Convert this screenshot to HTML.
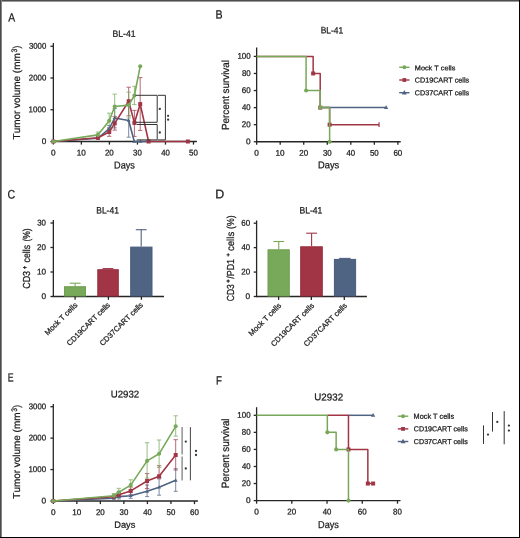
<!DOCTYPE html>
<html><head><meta charset="utf-8"><title>Figure</title>
<style>
html,body{margin:0;padding:0;background:#fff;}
body{width:520px;height:538px;overflow:hidden;}
svg{display:block;font-family:"Liberation Sans", sans-serif;font-kerning:none;}
#g{filter:blur(0.3px);}
text{stroke:#1a1a1a;stroke-width:0.25px;}
text.sup{stroke-width:0.4px;}
</style></head><body>
<svg width="520" height="538" viewBox="0 0 520 538">
<rect width="520" height="538" fill="#fff"/>
<g id="g">
<text transform="matrix(1,0.000873,0,1,0,-0.00716)" x="8.20" y="21.43" font-size="11.93" textLength="6.90" lengthAdjust="spacingAndGlyphs" fill="#1a1a1a">A</text>
<text transform="matrix(1,0.000873,0,1,0,-0.18809)" x="215.45" y="18.58" font-size="12.01" textLength="7.09" lengthAdjust="spacingAndGlyphs" fill="#1a1a1a">B</text>
<text transform="matrix(1,0.000873,0,1,0,-0.00653)" x="7.48" y="198.46" font-size="12.37" textLength="7.71" lengthAdjust="spacingAndGlyphs" fill="#1a1a1a">C</text>
<text transform="matrix(1,0.000873,0,1,0,-0.18796)" x="215.30" y="198.28" font-size="12.44" textLength="8.97" lengthAdjust="spacingAndGlyphs" fill="#1a1a1a">D</text>
<text transform="matrix(1,0.000873,0,1,0,-0.00681)" x="7.80" y="381.58" font-size="11.72" textLength="5.86" lengthAdjust="spacingAndGlyphs" fill="#1a1a1a">E</text>
<text transform="matrix(1,0.000873,0,1,0,-0.18850)" x="215.92" y="384.48" font-size="11.86" textLength="5.95" lengthAdjust="spacingAndGlyphs" fill="#1a1a1a">F</text>
<text transform="matrix(1,0.000873,0,1,0,-0.09822)" x="112.51" y="36.78" font-size="9.10" textLength="23.09" lengthAdjust="spacingAndGlyphs" fill="#1a1a1a">BL-41</text>
<text transform="matrix(1,0.000873,0,1,0,-0.09958)" x="114.07" y="168.50" font-size="10.01" textLength="20.84" lengthAdjust="spacingAndGlyphs" fill="#1a1a1a">Days</text>
<line x1="53.35" y1="43.00" x2="53.35" y2="142.10" stroke="#262626" stroke-width="1.3" />
<line x1="50.45" y1="141.50" x2="53.35" y2="141.50" stroke="#262626" stroke-width="1.3" />
<text transform="matrix(1,0.000873,0,1,0,-0.03640)" x="41.70" y="143.96" font-size="8.30" textLength="4.61" lengthAdjust="spacingAndGlyphs" fill="#1a1a1a">0</text>
<line x1="50.45" y1="109.75" x2="53.35" y2="109.75" stroke="#262626" stroke-width="1.3" />
<text transform="matrix(1,0.000873,0,1,0,-0.02498)" x="28.61" y="112.21" font-size="8.30" textLength="17.68" lengthAdjust="spacingAndGlyphs" fill="#1a1a1a">1000</text>
<line x1="50.45" y1="78.00" x2="53.35" y2="78.00" stroke="#262626" stroke-width="1.3" />
<text transform="matrix(1,0.000873,0,1,0,-0.02516)" x="28.83" y="80.46" font-size="8.30" textLength="17.46" lengthAdjust="spacingAndGlyphs" fill="#1a1a1a">2000</text>
<line x1="50.45" y1="46.25" x2="53.35" y2="46.25" stroke="#262626" stroke-width="1.3" />
<text transform="matrix(1,0.000873,0,1,0,-0.02525)" x="28.92" y="48.71" font-size="8.30" textLength="17.36" lengthAdjust="spacingAndGlyphs" fill="#1a1a1a">3000</text>
<line x1="52.75" y1="141.50" x2="196.90" y2="141.50" stroke="#262626" stroke-width="1.3" />
<line x1="53.35" y1="141.50" x2="53.35" y2="144.60" stroke="#262626" stroke-width="1.3" />
<text transform="matrix(1,0.000873,0,1,0,-0.04456)" x="51.05" y="155.61" font-size="8.30" textLength="4.61" lengthAdjust="spacingAndGlyphs" fill="#1a1a1a">0</text>
<line x1="81.38" y1="141.50" x2="81.38" y2="144.60" stroke="#262626" stroke-width="1.3" />
<text transform="matrix(1,0.000873,0,1,0,-0.06694)" x="76.68" y="155.61" font-size="8.30" textLength="9.10" lengthAdjust="spacingAndGlyphs" fill="#1a1a1a">10</text>
<line x1="109.41" y1="141.50" x2="109.41" y2="144.60" stroke="#262626" stroke-width="1.3" />
<text transform="matrix(1,0.000873,0,1,0,-0.09160)" x="104.93" y="155.61" font-size="8.30" textLength="8.87" lengthAdjust="spacingAndGlyphs" fill="#1a1a1a">20</text>
<line x1="137.44" y1="141.50" x2="137.44" y2="144.60" stroke="#262626" stroke-width="1.3" />
<text transform="matrix(1,0.000873,0,1,0,-0.11616)" x="133.06" y="155.61" font-size="8.30" textLength="8.77" lengthAdjust="spacingAndGlyphs" fill="#1a1a1a">30</text>
<line x1="165.47" y1="141.50" x2="165.47" y2="144.60" stroke="#262626" stroke-width="1.3" />
<text transform="matrix(1,0.000873,0,1,0,-0.14074)" x="161.21" y="155.61" font-size="8.30" textLength="8.64" lengthAdjust="spacingAndGlyphs" fill="#1a1a1a">40</text>
<line x1="193.50" y1="141.50" x2="193.50" y2="144.60" stroke="#262626" stroke-width="1.3" />
<text transform="matrix(1,0.000873,0,1,0,-0.16509)" x="189.10" y="155.61" font-size="8.30" textLength="8.78" lengthAdjust="spacingAndGlyphs" fill="#1a1a1a">50</text>
<g transform="matrix(1,0.000873,0,1,0,-0.01729)"><text transform="rotate(-90)" x="-139.40" y="19.80" font-size="10.00" textLength="86.14" lengthAdjust="spacingAndGlyphs" fill="#1a1a1a">Tumor volume (mm</text></g>
<g transform="matrix(1,0.000873,0,1,0,-0.01476)"><text transform="rotate(-90)" x="-52.53" y="16.90" font-size="7.99" textLength="3.71" lengthAdjust="spacingAndGlyphs" fill="#1a1a1a">3</text></g>
<g transform="matrix(1,0.000873,0,1,0,-0.01729)"><text transform="rotate(-90)" x="-48.43" y="19.80" font-size="10.00" textLength="2.71" lengthAdjust="spacingAndGlyphs" fill="#1a1a1a">)</text></g>
<g stroke="#4f6382" stroke-width="1.0" opacity="0.75"><line x1="109.20" y1="125.50" x2="109.20" y2="132.00"/><line x1="107.20" y1="125.50" x2="111.20" y2="125.50"/><line x1="107.20" y1="132.00" x2="111.20" y2="132.00"/></g>
<g stroke="#4f6382" stroke-width="1.0" opacity="0.75"><line x1="114.70" y1="108.50" x2="114.70" y2="127.90"/><line x1="112.70" y1="108.50" x2="116.70" y2="108.50"/><line x1="112.70" y1="127.90" x2="116.70" y2="127.90"/></g>
<g stroke="#4f6382" stroke-width="1.0" opacity="0.75"><line x1="128.70" y1="104.00" x2="128.70" y2="137.20"/><line x1="126.70" y1="104.00" x2="130.70" y2="104.00"/><line x1="126.70" y1="137.20" x2="130.70" y2="137.20"/></g>
<g stroke="#a13545" stroke-width="1.0" opacity="0.75"><line x1="109.20" y1="127.90" x2="109.20" y2="136.30"/><line x1="107.00" y1="127.90" x2="111.40" y2="127.90"/><line x1="107.00" y1="136.30" x2="111.40" y2="136.30"/></g>
<g stroke="#a13545" stroke-width="1.0" opacity="0.75"><line x1="114.70" y1="116.40" x2="114.70" y2="130.10"/><line x1="112.50" y1="116.40" x2="116.90" y2="116.40"/><line x1="112.50" y1="130.10" x2="116.90" y2="130.10"/></g>
<g stroke="#a13545" stroke-width="1.0" opacity="0.75"><line x1="128.70" y1="87.20" x2="128.70" y2="115.80"/><line x1="126.50" y1="87.20" x2="130.90" y2="87.20"/><line x1="126.50" y1="115.80" x2="130.90" y2="115.80"/></g>
<g stroke="#a13545" stroke-width="1.0" opacity="0.75"><line x1="134.40" y1="110.40" x2="134.40" y2="136.40"/><line x1="132.20" y1="110.40" x2="136.60" y2="110.40"/><line x1="132.20" y1="136.40" x2="136.60" y2="136.40"/></g>
<g stroke="#a13545" stroke-width="1.0" opacity="0.75"><line x1="140.20" y1="77.60" x2="140.20" y2="130.40"/><line x1="138.00" y1="77.60" x2="142.40" y2="77.60"/><line x1="138.00" y1="130.40" x2="142.40" y2="130.40"/></g>
<g stroke="#78a85a" stroke-width="1.0" opacity="0.75"><line x1="97.90" y1="132.00" x2="97.90" y2="137.80"/><line x1="95.70" y1="132.00" x2="100.10" y2="132.00"/><line x1="95.70" y1="137.80" x2="100.10" y2="137.80"/></g>
<g stroke="#78a85a" stroke-width="1.0" opacity="0.75"><line x1="109.20" y1="113.20" x2="109.20" y2="128.40"/><line x1="107.00" y1="113.20" x2="111.40" y2="113.20"/><line x1="107.00" y1="128.40" x2="111.40" y2="128.40"/></g>
<g stroke="#78a85a" stroke-width="1.0" opacity="0.75"><line x1="114.70" y1="94.10" x2="114.70" y2="118.20"/><line x1="112.50" y1="94.10" x2="116.90" y2="94.10"/><line x1="112.50" y1="118.20" x2="116.90" y2="118.20"/></g>
<g stroke="#78a85a" stroke-width="1.0" opacity="0.75"><line x1="128.70" y1="92.20" x2="128.70" y2="118.00"/><line x1="126.50" y1="92.20" x2="130.90" y2="92.20"/><line x1="126.50" y1="118.00" x2="130.90" y2="118.00"/></g>
<g stroke="#78a85a" stroke-width="1.0" opacity="0.75"><line x1="134.40" y1="86.30" x2="134.40" y2="104.60"/><line x1="132.20" y1="86.30" x2="136.60" y2="86.30"/><line x1="132.20" y1="104.60" x2="136.60" y2="104.60"/></g>
<polyline points="53.35,141.50 97.90,138.30 109.20,128.70 114.70,118.00 128.70,120.50 134.30,141.50 140.40,141.50 148.60,141.50" fill="none" stroke="#4f6382" stroke-width="1.6" stroke-linejoin="round" />
<polygon points="53.35,139.45 51.45,142.87 55.25,142.87" fill="#4f6382"/>
<polygon points="97.90,136.25 96.00,139.67 99.80,139.67" fill="#4f6382"/>
<polygon points="109.20,126.65 107.30,130.07 111.10,130.07" fill="#4f6382"/>
<polygon points="114.70,115.95 112.80,119.37 116.60,119.37" fill="#4f6382"/>
<polygon points="128.70,118.45 126.80,121.87 130.60,121.87" fill="#4f6382"/>
<polygon points="134.30,139.45 132.40,142.87 136.20,142.87" fill="#4f6382"/>
<polygon points="140.40,139.45 138.50,142.87 142.30,142.87" fill="#4f6382"/>
<polygon points="148.60,139.45 146.70,142.87 150.50,142.87" fill="#4f6382"/>
<polyline points="53.35,141.50 97.90,137.80 109.20,132.00 114.70,123.40 128.70,101.25 134.40,122.90 140.20,104.10 148.60,141.50 187.90,141.50" fill="none" stroke="#a13545" stroke-width="1.6" stroke-linejoin="round" />
<rect x="51.35" y="139.50" width="4.0" height="4.0" fill="#a13545"/>
<rect x="95.90" y="135.80" width="4.0" height="4.0" fill="#a13545"/>
<rect x="107.20" y="130.00" width="4.0" height="4.0" fill="#a13545"/>
<rect x="112.70" y="121.40" width="4.0" height="4.0" fill="#a13545"/>
<rect x="126.70" y="99.25" width="4.0" height="4.0" fill="#a13545"/>
<rect x="132.40" y="120.90" width="4.0" height="4.0" fill="#a13545"/>
<rect x="138.20" y="102.10" width="4.0" height="4.0" fill="#a13545"/>
<rect x="146.60" y="139.50" width="4.0" height="4.0" fill="#a13545"/>
<rect x="185.90" y="139.50" width="4.0" height="4.0" fill="#a13545"/>
<polyline points="53.35,141.50 97.90,134.90 109.20,120.80 114.70,106.50 128.70,105.10 134.40,95.50 140.20,66.30" fill="none" stroke="#78a85a" stroke-width="1.6" stroke-linejoin="round" />
<circle cx="53.35" cy="141.50" r="2.05" fill="#78a85a"/>
<circle cx="97.90" cy="134.90" r="2.05" fill="#78a85a"/>
<circle cx="109.20" cy="120.80" r="2.05" fill="#78a85a"/>
<circle cx="114.70" cy="106.50" r="2.05" fill="#78a85a"/>
<circle cx="128.70" cy="105.10" r="2.05" fill="#78a85a"/>
<circle cx="134.40" cy="95.50" r="2.05" fill="#78a85a"/>
<circle cx="140.20" cy="66.30" r="2.05" fill="#78a85a"/>
<polyline points="135.6,95.3 157.2,95.3 157.2,122.3 135.6,122.3" fill="none" stroke="#333" stroke-width="1"/>
<polyline points="136.7,124.5 157.2,124.5 157.2,139.9 136.7,139.9" fill="none" stroke="#333" stroke-width="1"/>
<polyline points="158.0,95.3 165.4,95.3 165.4,139.9 158.0,139.9" fill="none" stroke="#333" stroke-width="1"/>
<circle cx="159.80" cy="108.90" r="1.15" fill="#383838"/>
<circle cx="159.80" cy="132.50" r="1.15" fill="#383838"/>
<circle cx="168.10" cy="115.80" r="1.15" fill="#383838"/>
<circle cx="168.10" cy="119.70" r="1.15" fill="#383838"/>
<text transform="matrix(1,0.000873,0,1,0,-0.27991)" x="320.63" y="33.38" font-size="9.24" textLength="22.46" lengthAdjust="spacingAndGlyphs" fill="#1a1a1a">BL-41</text>
<text transform="matrix(1,0.000873,0,1,0,-0.27766)" x="318.06" y="168.35" font-size="9.78" textLength="21.16" lengthAdjust="spacingAndGlyphs" fill="#1a1a1a">Days</text>
<line x1="256.65" y1="47.40" x2="256.65" y2="142.35" stroke="#262626" stroke-width="1.3" />
<line x1="253.75" y1="141.75" x2="256.65" y2="141.75" stroke="#262626" stroke-width="1.3" />
<text transform="matrix(1,0.000873,0,1,0,-0.21484)" x="246.10" y="144.21" font-size="8.30" textLength="4.61" lengthAdjust="spacingAndGlyphs" fill="#1a1a1a">0</text>
<line x1="253.75" y1="124.68" x2="256.65" y2="124.68" stroke="#262626" stroke-width="1.3" />
<text transform="matrix(1,0.000873,0,1,0,-0.21111)" x="241.82" y="127.14" font-size="8.30" textLength="8.87" lengthAdjust="spacingAndGlyphs" fill="#1a1a1a">20</text>
<line x1="253.75" y1="107.61" x2="256.65" y2="107.61" stroke="#262626" stroke-width="1.3" />
<text transform="matrix(1,0.000873,0,1,0,-0.21130)" x="242.04" y="110.07" font-size="8.30" textLength="8.64" lengthAdjust="spacingAndGlyphs" fill="#1a1a1a">40</text>
<line x1="253.75" y1="90.54" x2="256.65" y2="90.54" stroke="#262626" stroke-width="1.3" />
<text transform="matrix(1,0.000873,0,1,0,-0.21110)" x="241.81" y="93.00" font-size="8.30" textLength="8.88" lengthAdjust="spacingAndGlyphs" fill="#1a1a1a">60</text>
<line x1="253.75" y1="73.47" x2="256.65" y2="73.47" stroke="#262626" stroke-width="1.3" />
<text transform="matrix(1,0.000873,0,1,0,-0.21116)" x="241.88" y="75.93" font-size="8.30" textLength="8.81" lengthAdjust="spacingAndGlyphs" fill="#1a1a1a">80</text>
<line x1="253.75" y1="56.40" x2="256.65" y2="56.40" stroke="#262626" stroke-width="1.3" />
<text transform="matrix(1,0.000873,0,1,0,-0.20726)" x="237.41" y="58.86" font-size="8.30" textLength="13.28" lengthAdjust="spacingAndGlyphs" fill="#1a1a1a">100</text>
<line x1="256.05" y1="141.75" x2="400.70" y2="141.75" stroke="#262626" stroke-width="1.3" />
<line x1="256.65" y1="141.75" x2="256.65" y2="144.85" stroke="#262626" stroke-width="1.3" />
<text transform="matrix(1,0.000873,0,1,0,-0.22204)" x="254.35" y="155.86" font-size="8.30" textLength="4.61" lengthAdjust="spacingAndGlyphs" fill="#1a1a1a">0</text>
<line x1="280.19" y1="141.75" x2="280.19" y2="144.85" stroke="#262626" stroke-width="1.3" />
<text transform="matrix(1,0.000873,0,1,0,-0.24050)" x="275.49" y="155.86" font-size="8.30" textLength="9.10" lengthAdjust="spacingAndGlyphs" fill="#1a1a1a">10</text>
<line x1="303.73" y1="141.75" x2="303.73" y2="144.85" stroke="#262626" stroke-width="1.3" />
<text transform="matrix(1,0.000873,0,1,0,-0.26124)" x="299.25" y="155.86" font-size="8.30" textLength="8.87" lengthAdjust="spacingAndGlyphs" fill="#1a1a1a">20</text>
<line x1="327.27" y1="141.75" x2="327.27" y2="144.85" stroke="#262626" stroke-width="1.3" />
<text transform="matrix(1,0.000873,0,1,0,-0.28188)" x="322.89" y="155.86" font-size="8.30" textLength="8.77" lengthAdjust="spacingAndGlyphs" fill="#1a1a1a">30</text>
<line x1="350.81" y1="141.75" x2="350.81" y2="144.85" stroke="#262626" stroke-width="1.3" />
<text transform="matrix(1,0.000873,0,1,0,-0.30254)" x="346.55" y="155.86" font-size="8.30" textLength="8.64" lengthAdjust="spacingAndGlyphs" fill="#1a1a1a">40</text>
<line x1="374.35" y1="141.75" x2="374.35" y2="144.85" stroke="#262626" stroke-width="1.3" />
<text transform="matrix(1,0.000873,0,1,0,-0.32297)" x="369.95" y="155.86" font-size="8.30" textLength="8.78" lengthAdjust="spacingAndGlyphs" fill="#1a1a1a">50</text>
<line x1="397.89" y1="141.75" x2="397.89" y2="144.85" stroke="#262626" stroke-width="1.3" />
<text transform="matrix(1,0.000873,0,1,0,-0.34344)" x="393.40" y="155.86" font-size="8.30" textLength="8.88" lengthAdjust="spacingAndGlyphs" fill="#1a1a1a">60</text>
<g transform="matrix(1,0.000873,0,1,0,-0.19999)"><text transform="rotate(-90)" x="-129.99" y="229.08" font-size="10.29" textLength="69.92" lengthAdjust="spacingAndGlyphs" fill="#1a1a1a">Percent survival</text></g>
<polyline points="320.21,107.61 386.12,107.61" fill="none" stroke="#4f6382" stroke-width="1.5" stroke-linejoin="round" />
<polygon points="386.12,105.34 384.02,109.12 388.22,109.12" fill="#4f6382"/>
<polyline points="256.65,56.40 313.15,56.40 313.15,73.47 320.21,73.47 320.21,107.61 329.62,107.61 329.62,124.68 379.06,124.68" fill="none" stroke="#a13545" stroke-width="1.5" stroke-linejoin="round" />
<line x1="379.06" y1="122.28" x2="379.06" y2="127.08" stroke="#a13545" stroke-width="1.2" />
<rect x="311.15" y="71.47" width="4.0" height="4.0" fill="#a13545"/>
<rect x="318.21" y="105.61" width="4.0" height="4.0" fill="#a13545"/>
<rect x="327.62" y="122.68" width="4.0" height="4.0" fill="#a13545"/>
<polyline points="256.65,56.40 306.08,56.40 306.08,90.54 320.21,90.54 320.21,107.61 329.62,107.61 329.62,141.75" fill="none" stroke="#78a85a" stroke-width="1.5" stroke-linejoin="round" />
<circle cx="306.08" cy="90.54" r="2.05" fill="#78a85a"/>
<circle cx="320.21" cy="107.61" r="2.05" fill="#78a85a"/>
<circle cx="329.62" cy="141.75" r="2.05" fill="#78a85a"/>
<line x1="399.20" y1="67.30" x2="409.50" y2="67.30" stroke="#78a85a" stroke-width="1.4" />
<circle cx="404.35" cy="67.30" r="2.0" fill="#78a85a"/>
<line x1="399.20" y1="80.00" x2="409.50" y2="80.00" stroke="#a13545" stroke-width="1.4" />
<rect x="402.45" y="78.10" width="3.8" height="3.8" fill="#a13545"/>
<line x1="399.20" y1="92.70" x2="409.50" y2="92.70" stroke="#4f6382" stroke-width="1.4" />
<polygon points="404.35,90.00 401.85,94.50 406.85,94.50" fill="#4f6382"/>
<text transform="matrix(1,0.000873,0,1,0,-0.36214)" x="414.82" y="70.31" font-size="6.75" textLength="40.52" lengthAdjust="spacingAndGlyphs" fill="#1a1a1a">Mock T cells</text>
<text transform="matrix(1,0.000873,0,1,0,-0.36208)" x="414.75" y="82.51" font-size="7.16" textLength="54.39" lengthAdjust="spacingAndGlyphs" fill="#1a1a1a">CD19CART cells</text>
<text transform="matrix(1,0.000873,0,1,0,-0.36208)" x="414.75" y="95.21" font-size="7.16" textLength="54.39" lengthAdjust="spacingAndGlyphs" fill="#1a1a1a">CD37CART cells</text>
<text transform="matrix(1,0.000873,0,1,0,-0.08400)" x="96.22" y="213.53" font-size="9.32" textLength="22.67" lengthAdjust="spacingAndGlyphs" fill="#1a1a1a">BL-41</text>
<line x1="53.35" y1="219.90" x2="53.35" y2="297.10" stroke="#262626" stroke-width="1.3" />
<line x1="50.45" y1="296.50" x2="53.35" y2="296.50" stroke="#262626" stroke-width="1.3" />
<text transform="matrix(1,0.000873,0,1,0,-0.03614)" x="41.40" y="298.96" font-size="8.30" textLength="4.61" lengthAdjust="spacingAndGlyphs" fill="#1a1a1a">0</text>
<line x1="50.45" y1="272.00" x2="53.35" y2="272.00" stroke="#262626" stroke-width="1.3" />
<text transform="matrix(1,0.000873,0,1,0,-0.03221)" x="36.90" y="274.46" font-size="8.30" textLength="9.10" lengthAdjust="spacingAndGlyphs" fill="#1a1a1a">10</text>
<line x1="50.45" y1="247.50" x2="53.35" y2="247.50" stroke="#262626" stroke-width="1.3" />
<text transform="matrix(1,0.000873,0,1,0,-0.03240)" x="37.12" y="249.96" font-size="8.30" textLength="8.87" lengthAdjust="spacingAndGlyphs" fill="#1a1a1a">20</text>
<line x1="50.45" y1="223.00" x2="53.35" y2="223.00" stroke="#262626" stroke-width="1.3" />
<text transform="matrix(1,0.000873,0,1,0,-0.03249)" x="37.22" y="225.46" font-size="8.30" textLength="8.77" lengthAdjust="spacingAndGlyphs" fill="#1a1a1a">30</text>
<line x1="52.70" y1="296.50" x2="164.00" y2="296.50" stroke="#262626" stroke-width="1.3" />
<g transform="matrix(1,0.000873,0,1,0,-0.02654)"><text transform="rotate(-90)" x="-288.83" y="30.40" font-size="10.20" textLength="17.91" lengthAdjust="spacingAndGlyphs" fill="#1a1a1a">CD3</text></g>
<g transform="matrix(1,0.000873,0,1,0,-0.02319)"><text class="sup" transform="rotate(-90)" x="-268.94" y="26.57" font-size="6.66" textLength="3.08" lengthAdjust="spacingAndGlyphs" fill="#1a1a1a">+</text></g>
<g transform="matrix(1,0.000873,0,1,0,-0.02654)"><text transform="rotate(-90)" x="-262.45" y="30.40" font-size="10.20" textLength="17.55" lengthAdjust="spacingAndGlyphs" fill="#1a1a1a">cells</text></g>
<g transform="matrix(1,0.000873,0,1,0,-0.02654)"><text transform="rotate(-90)" x="-241.50" y="30.40" font-size="10.20" textLength="13.11" lengthAdjust="spacingAndGlyphs" fill="#1a1a1a">(%)</text></g>
<rect x="64.50" y="286.70" width="21.00" height="9.30" fill="#78a85a" stroke="#6fa050" stroke-width="1"/>
<rect x="97.80" y="269.70" width="20.50" height="26.30" fill="#a13545" stroke="#9a2c3c" stroke-width="1"/>
<rect x="130.70" y="247.10" width="21.30" height="48.90" fill="#4f6382" stroke="#495d7e" stroke-width="1"/>
<g stroke="#78a85a" stroke-width="1.1"><line x1="75.1" y1="283.2" x2="75.1" y2="286.0"/><line x1="69.69999999999999" y1="283.2" x2="80.5" y2="283.2"/></g>
<g stroke="#a13545" stroke-width="1.1"><line x1="108.0" y1="268.6" x2="108.0" y2="269.2"/><line x1="102.6" y1="268.6" x2="113.4" y2="268.6"/></g>
<g stroke="#4f6382" stroke-width="1.1"><line x1="141.2" y1="229.7" x2="141.2" y2="246.6"/><line x1="135.79999999999998" y1="229.7" x2="146.6" y2="229.7"/></g>
<line x1="75.10" y1="296.50" x2="75.10" y2="299.80" stroke="#262626" stroke-width="1.3" />
<line x1="108.40" y1="296.50" x2="108.40" y2="299.80" stroke="#262626" stroke-width="1.3" />
<line x1="141.40" y1="296.50" x2="141.40" y2="299.80" stroke="#262626" stroke-width="1.3" />
<text transform="translate(77.98,305.52) rotate(-45)" x="0" y="0" text-anchor="end" font-size="7.6" textLength="42.91" lengthAdjust="spacingAndGlyphs" fill="#1a1a1a">Mock T cells</text>
<text transform="translate(110.57,305.52) rotate(-45)" x="0" y="0" text-anchor="end" font-size="7.6" textLength="57.66" lengthAdjust="spacingAndGlyphs" fill="#1a1a1a">CD19CART cells</text>
<text transform="translate(143.47,305.52) rotate(-45)" x="0" y="0" text-anchor="end" font-size="7.6" textLength="57.66" lengthAdjust="spacingAndGlyphs" fill="#1a1a1a">CD37CART cells</text>
<text transform="matrix(1,0.000873,0,1,0,-0.26139)" x="299.41" y="213.53" font-size="9.32" textLength="22.99" lengthAdjust="spacingAndGlyphs" fill="#1a1a1a">BL-41</text>
<line x1="256.60" y1="220.50" x2="256.60" y2="297.10" stroke="#262626" stroke-width="1.3" />
<line x1="253.70" y1="296.50" x2="256.60" y2="296.50" stroke="#262626" stroke-width="1.3" />
<text transform="matrix(1,0.000873,0,1,0,-0.21441)" x="245.60" y="298.96" font-size="8.30" textLength="4.61" lengthAdjust="spacingAndGlyphs" fill="#1a1a1a">0</text>
<line x1="253.70" y1="272.07" x2="256.60" y2="272.07" stroke="#262626" stroke-width="1.3" />
<text transform="matrix(1,0.000873,0,1,0,-0.21067)" x="241.32" y="274.52" font-size="8.30" textLength="8.87" lengthAdjust="spacingAndGlyphs" fill="#1a1a1a">20</text>
<line x1="253.70" y1="247.63" x2="256.60" y2="247.63" stroke="#262626" stroke-width="1.3" />
<text transform="matrix(1,0.000873,0,1,0,-0.21087)" x="241.54" y="250.09" font-size="8.30" textLength="8.64" lengthAdjust="spacingAndGlyphs" fill="#1a1a1a">40</text>
<line x1="253.70" y1="223.20" x2="256.60" y2="223.20" stroke="#262626" stroke-width="1.3" />
<text transform="matrix(1,0.000873,0,1,0,-0.21067)" x="241.31" y="225.66" font-size="8.30" textLength="8.88" lengthAdjust="spacingAndGlyphs" fill="#1a1a1a">60</text>
<line x1="256.00" y1="296.50" x2="366.90" y2="296.50" stroke="#262626" stroke-width="1.3" />
<g transform="matrix(1,0.000873,0,1,0,-0.20454)"><text transform="rotate(-90)" x="-301.21" y="234.30" font-size="10.20" textLength="17.07" lengthAdjust="spacingAndGlyphs" fill="#1a1a1a">CD3</text></g>
<g transform="matrix(1,0.000873,0,1,0,-0.20103)"><text class="sup" transform="rotate(-90)" x="-282.67" y="230.28" font-size="5.64" textLength="3.44" lengthAdjust="spacingAndGlyphs" fill="#1a1a1a">+</text></g>
<g transform="matrix(1,0.000873,0,1,0,-0.20454)"><text transform="rotate(-90)" x="-278.78" y="234.30" font-size="10.20" textLength="19.79" lengthAdjust="spacingAndGlyphs" fill="#1a1a1a">/PD1</text></g>
<g transform="matrix(1,0.000873,0,1,0,-0.20059)"><text class="sup" transform="rotate(-90)" x="-256.56" y="229.78" font-size="5.64" textLength="3.32" lengthAdjust="spacingAndGlyphs" fill="#1a1a1a">+</text></g>
<g transform="matrix(1,0.000873,0,1,0,-0.20454)"><text transform="rotate(-90)" x="-251.09" y="234.30" font-size="10.20" textLength="19.32" lengthAdjust="spacingAndGlyphs" fill="#1a1a1a">cells</text></g>
<g transform="matrix(1,0.000873,0,1,0,-0.20454)"><text transform="rotate(-90)" x="-228.92" y="234.30" font-size="10.20" textLength="13.43" lengthAdjust="spacingAndGlyphs" fill="#1a1a1a">(%)</text></g>
<rect x="268.00" y="249.80" width="21.30" height="46.20" fill="#78a85a" stroke="#6fa050" stroke-width="1"/>
<rect x="300.70" y="246.80" width="21.60" height="49.20" fill="#a13545" stroke="#9a2c3c" stroke-width="1"/>
<rect x="334.40" y="259.40" width="21.20" height="36.60" fill="#4f6382" stroke="#495d7e" stroke-width="1"/>
<g stroke="#78a85a" stroke-width="1.1"><line x1="278.75" y1="241.5" x2="278.75" y2="249.3"/><line x1="273.35" y1="241.5" x2="284.15" y2="241.5"/></g>
<g stroke="#a13545" stroke-width="1.1"><line x1="311.6" y1="233.2" x2="311.6" y2="246.3"/><line x1="306.20000000000005" y1="233.2" x2="317.0" y2="233.2"/></g>
<g stroke="#4f6382" stroke-width="1.1"><line x1="344.85" y1="258.4" x2="344.85" y2="258.9"/><line x1="339.1" y1="258.4" x2="350.6" y2="258.4"/></g>
<line x1="278.60" y1="296.50" x2="278.60" y2="299.90" stroke="#262626" stroke-width="1.3" />
<line x1="311.35" y1="296.50" x2="311.35" y2="299.90" stroke="#262626" stroke-width="1.3" />
<line x1="344.30" y1="296.50" x2="344.30" y2="299.90" stroke="#262626" stroke-width="1.3" />
<text transform="translate(281.78,306.12) rotate(-45)" x="0" y="0" text-anchor="end" font-size="7.6" textLength="42.91" lengthAdjust="spacingAndGlyphs" fill="#1a1a1a">Mock T cells</text>
<text transform="translate(314.67,306.12) rotate(-45)" x="0" y="0" text-anchor="end" font-size="7.6" textLength="57.66" lengthAdjust="spacingAndGlyphs" fill="#1a1a1a">CD19CART cells</text>
<text transform="translate(347.47,306.12) rotate(-45)" x="0" y="0" text-anchor="end" font-size="7.6" textLength="57.66" lengthAdjust="spacingAndGlyphs" fill="#1a1a1a">CD37CART cells</text>
<text transform="matrix(1,0.000873,0,1,0,-0.09671)" x="110.78" y="397.58" font-size="9.83" textLength="28.39" lengthAdjust="spacingAndGlyphs" fill="#1a1a1a">U2932</text>
<text transform="matrix(1,0.000873,0,1,0,-0.09975)" x="114.26" y="527.69" font-size="9.11" textLength="21.05" lengthAdjust="spacingAndGlyphs" fill="#1a1a1a">Days</text>
<line x1="53.30" y1="404.00" x2="53.30" y2="501.60" stroke="#262626" stroke-width="1.3" />
<line x1="50.40" y1="501.00" x2="53.30" y2="501.00" stroke="#262626" stroke-width="1.3" />
<text transform="matrix(1,0.000873,0,1,0,-0.03623)" x="41.50" y="503.46" font-size="8.30" textLength="4.61" lengthAdjust="spacingAndGlyphs" fill="#1a1a1a">0</text>
<line x1="50.40" y1="469.57" x2="53.30" y2="469.57" stroke="#262626" stroke-width="1.3" />
<text transform="matrix(1,0.000873,0,1,0,-0.02481)" x="28.41" y="472.03" font-size="8.30" textLength="17.68" lengthAdjust="spacingAndGlyphs" fill="#1a1a1a">1000</text>
<line x1="50.40" y1="438.14" x2="53.30" y2="438.14" stroke="#262626" stroke-width="1.3" />
<text transform="matrix(1,0.000873,0,1,0,-0.02499)" x="28.63" y="440.60" font-size="8.30" textLength="17.46" lengthAdjust="spacingAndGlyphs" fill="#1a1a1a">2000</text>
<line x1="50.40" y1="406.71" x2="53.30" y2="406.71" stroke="#262626" stroke-width="1.3" />
<text transform="matrix(1,0.000873,0,1,0,-0.02507)" x="28.72" y="409.17" font-size="8.30" textLength="17.36" lengthAdjust="spacingAndGlyphs" fill="#1a1a1a">3000</text>
<line x1="52.70" y1="501.00" x2="197.90" y2="501.00" stroke="#262626" stroke-width="1.3" />
<line x1="53.30" y1="501.00" x2="53.30" y2="504.10" stroke="#262626" stroke-width="1.3" />
<text transform="matrix(1,0.000873,0,1,0,-0.04452)" x="51.00" y="514.96" font-size="8.30" textLength="4.61" lengthAdjust="spacingAndGlyphs" fill="#1a1a1a">0</text>
<line x1="76.83" y1="501.00" x2="76.83" y2="504.10" stroke="#262626" stroke-width="1.3" />
<text transform="matrix(1,0.000873,0,1,0,-0.06297)" x="72.13" y="514.96" font-size="8.30" textLength="9.10" lengthAdjust="spacingAndGlyphs" fill="#1a1a1a">10</text>
<line x1="100.36" y1="501.00" x2="100.36" y2="504.10" stroke="#262626" stroke-width="1.3" />
<text transform="matrix(1,0.000873,0,1,0,-0.08370)" x="95.88" y="514.96" font-size="8.30" textLength="8.87" lengthAdjust="spacingAndGlyphs" fill="#1a1a1a">20</text>
<line x1="123.89" y1="501.00" x2="123.89" y2="504.10" stroke="#262626" stroke-width="1.3" />
<text transform="matrix(1,0.000873,0,1,0,-0.10433)" x="119.51" y="514.96" font-size="8.30" textLength="8.77" lengthAdjust="spacingAndGlyphs" fill="#1a1a1a">30</text>
<line x1="147.42" y1="501.00" x2="147.42" y2="504.10" stroke="#262626" stroke-width="1.3" />
<text transform="matrix(1,0.000873,0,1,0,-0.12498)" x="143.16" y="514.96" font-size="8.30" textLength="8.64" lengthAdjust="spacingAndGlyphs" fill="#1a1a1a">40</text>
<line x1="170.95" y1="501.00" x2="170.95" y2="504.10" stroke="#262626" stroke-width="1.3" />
<text transform="matrix(1,0.000873,0,1,0,-0.14540)" x="166.55" y="514.96" font-size="8.30" textLength="8.78" lengthAdjust="spacingAndGlyphs" fill="#1a1a1a">50</text>
<line x1="194.48" y1="501.00" x2="194.48" y2="504.10" stroke="#262626" stroke-width="1.3" />
<text transform="matrix(1,0.000873,0,1,0,-0.16587)" x="189.99" y="514.96" font-size="8.30" textLength="8.88" lengthAdjust="spacingAndGlyphs" fill="#1a1a1a">60</text>
<g transform="matrix(1,0.000873,0,1,0,-0.01729)"><text transform="rotate(-90)" x="-498.70" y="19.80" font-size="10.00" textLength="86.14" lengthAdjust="spacingAndGlyphs" fill="#1a1a1a">Tumor volume (mm</text></g>
<g transform="matrix(1,0.000873,0,1,0,-0.01476)"><text transform="rotate(-90)" x="-411.83" y="16.90" font-size="7.99" textLength="3.71" lengthAdjust="spacingAndGlyphs" fill="#1a1a1a">3</text></g>
<g transform="matrix(1,0.000873,0,1,0,-0.01729)"><text transform="rotate(-90)" x="-407.73" y="19.80" font-size="10.00" textLength="2.71" lengthAdjust="spacingAndGlyphs" fill="#1a1a1a">)</text></g>
<g stroke="#4f6382" stroke-width="1.0" opacity="0.75"><line x1="118.80" y1="494.00" x2="118.80" y2="499.00"/><line x1="116.80" y1="494.00" x2="120.80" y2="494.00"/><line x1="116.80" y1="499.00" x2="120.80" y2="499.00"/></g>
<g stroke="#4f6382" stroke-width="1.0" opacity="0.75"><line x1="130.70" y1="492.50" x2="130.70" y2="498.30"/><line x1="128.70" y1="492.50" x2="132.70" y2="492.50"/><line x1="128.70" y1="498.30" x2="132.70" y2="498.30"/></g>
<g stroke="#4f6382" stroke-width="1.0" opacity="0.75"><line x1="147.10" y1="485.00" x2="147.10" y2="496.60"/><line x1="145.10" y1="485.00" x2="149.10" y2="485.00"/><line x1="145.10" y1="496.60" x2="149.10" y2="496.60"/></g>
<g stroke="#4f6382" stroke-width="1.0" opacity="0.75"><line x1="159.10" y1="478.90" x2="159.10" y2="495.20"/><line x1="157.10" y1="478.90" x2="161.10" y2="478.90"/><line x1="157.10" y1="495.20" x2="161.10" y2="495.20"/></g>
<g stroke="#4f6382" stroke-width="1.0" opacity="0.75"><line x1="175.70" y1="468.70" x2="175.70" y2="491.30"/><line x1="173.70" y1="468.70" x2="177.70" y2="468.70"/><line x1="173.70" y1="491.30" x2="177.70" y2="491.30"/></g>
<g stroke="#a13545" stroke-width="1.0" opacity="0.75"><line x1="118.80" y1="492.00" x2="118.80" y2="497.60"/><line x1="116.60" y1="492.00" x2="121.00" y2="492.00"/><line x1="116.60" y1="497.60" x2="121.00" y2="497.60"/></g>
<g stroke="#a13545" stroke-width="1.0" opacity="0.75"><line x1="130.70" y1="487.00" x2="130.70" y2="494.80"/><line x1="128.50" y1="487.00" x2="132.90" y2="487.00"/><line x1="128.50" y1="494.80" x2="132.90" y2="494.80"/></g>
<g stroke="#a13545" stroke-width="1.0" opacity="0.75"><line x1="147.10" y1="473.60" x2="147.10" y2="488.60"/><line x1="144.90" y1="473.60" x2="149.30" y2="473.60"/><line x1="144.90" y1="488.60" x2="149.30" y2="488.60"/></g>
<g stroke="#a13545" stroke-width="1.0" opacity="0.75"><line x1="159.10" y1="465.70" x2="159.10" y2="478.00"/><line x1="156.90" y1="465.70" x2="161.30" y2="465.70"/><line x1="156.90" y1="478.00" x2="161.30" y2="478.00"/></g>
<g stroke="#a13545" stroke-width="1.0" opacity="0.75"><line x1="175.70" y1="439.70" x2="175.70" y2="470.00"/><line x1="173.50" y1="439.70" x2="177.90" y2="439.70"/><line x1="173.50" y1="470.00" x2="177.90" y2="470.00"/></g>
<g stroke="#78a85a" stroke-width="1.0" opacity="0.75"><line x1="113.90" y1="493.50" x2="113.90" y2="497.90"/><line x1="111.70" y1="493.50" x2="116.10" y2="493.50"/><line x1="111.70" y1="497.90" x2="116.10" y2="497.90"/></g>
<g stroke="#78a85a" stroke-width="1.0" opacity="0.75"><line x1="118.80" y1="488.30" x2="118.80" y2="496.10"/><line x1="116.60" y1="488.30" x2="121.00" y2="488.30"/><line x1="116.60" y1="496.10" x2="121.00" y2="496.10"/></g>
<g stroke="#78a85a" stroke-width="1.0" opacity="0.75"><line x1="130.70" y1="479.80" x2="130.70" y2="490.40"/><line x1="128.50" y1="479.80" x2="132.90" y2="479.80"/><line x1="128.50" y1="490.40" x2="132.90" y2="490.40"/></g>
<g stroke="#78a85a" stroke-width="1.0" opacity="0.75"><line x1="147.10" y1="442.70" x2="147.10" y2="478.00"/><line x1="144.90" y1="442.70" x2="149.30" y2="442.70"/><line x1="144.90" y1="478.00" x2="149.30" y2="478.00"/></g>
<g stroke="#78a85a" stroke-width="1.0" opacity="0.75"><line x1="159.10" y1="440.00" x2="159.10" y2="467.40"/><line x1="156.90" y1="440.00" x2="161.30" y2="440.00"/><line x1="156.90" y1="467.40" x2="161.30" y2="467.40"/></g>
<g stroke="#78a85a" stroke-width="1.0" opacity="0.75"><line x1="175.70" y1="415.80" x2="175.70" y2="436.10"/><line x1="173.50" y1="415.80" x2="177.90" y2="415.80"/><line x1="173.50" y1="436.10" x2="177.90" y2="436.10"/></g>
<polyline points="53.30,501.00 113.90,498.30 118.80,496.60 130.70,495.70 147.10,491.30 159.10,487.20 175.70,480.30" fill="none" stroke="#4f6382" stroke-width="1.6" stroke-linejoin="round" />
<polygon points="53.30,498.95 51.40,502.37 55.20,502.37" fill="#4f6382"/>
<polygon points="113.90,496.25 112.00,499.67 115.80,499.67" fill="#4f6382"/>
<polygon points="118.80,494.55 116.90,497.97 120.70,497.97" fill="#4f6382"/>
<polygon points="130.70,493.65 128.80,497.07 132.60,497.07" fill="#4f6382"/>
<polygon points="147.10,489.25 145.20,492.67 149.00,492.67" fill="#4f6382"/>
<polygon points="159.10,485.15 157.20,488.57 161.00,488.57" fill="#4f6382"/>
<polygon points="175.70,478.25 173.80,481.67 177.60,481.67" fill="#4f6382"/>
<polyline points="53.30,501.00 113.90,496.60 118.80,494.80 130.70,490.90 147.10,481.00 159.10,476.30 175.70,455.00" fill="none" stroke="#a13545" stroke-width="1.6" stroke-linejoin="round" />
<rect x="51.30" y="499.00" width="4.0" height="4.0" fill="#a13545"/>
<rect x="111.90" y="494.60" width="4.0" height="4.0" fill="#a13545"/>
<rect x="116.80" y="492.80" width="4.0" height="4.0" fill="#a13545"/>
<rect x="128.70" y="488.90" width="4.0" height="4.0" fill="#a13545"/>
<rect x="145.10" y="479.00" width="4.0" height="4.0" fill="#a13545"/>
<rect x="157.10" y="474.30" width="4.0" height="4.0" fill="#a13545"/>
<rect x="173.70" y="453.00" width="4.0" height="4.0" fill="#a13545"/>
<polyline points="53.30,501.00 113.90,495.70 118.80,492.20 130.70,485.10 147.10,460.90 159.10,453.80 175.70,426.30" fill="none" stroke="#78a85a" stroke-width="1.6" stroke-linejoin="round" />
<circle cx="53.30" cy="501.00" r="2.05" fill="#78a85a"/>
<circle cx="113.90" cy="495.70" r="2.05" fill="#78a85a"/>
<circle cx="118.80" cy="492.20" r="2.05" fill="#78a85a"/>
<circle cx="130.70" cy="485.10" r="2.05" fill="#78a85a"/>
<circle cx="147.10" cy="460.90" r="2.05" fill="#78a85a"/>
<circle cx="159.10" cy="453.80" r="2.05" fill="#78a85a"/>
<circle cx="175.70" cy="426.30" r="2.05" fill="#78a85a"/>
<line x1="182.10" y1="427.10" x2="182.10" y2="454.60" stroke="#777" stroke-width="1.2" />
<line x1="182.10" y1="456.50" x2="182.10" y2="480.60" stroke="#777" stroke-width="1.2" />
<line x1="190.40" y1="427.10" x2="190.40" y2="480.30" stroke="#444" stroke-width="1.0" />
<circle cx="185.80" cy="441.60" r="1.15" fill="#383838"/>
<circle cx="185.80" cy="468.50" r="1.15" fill="#383838"/>
<circle cx="196.00" cy="451.00" r="1.15" fill="#383838"/>
<circle cx="196.00" cy="455.00" r="1.15" fill="#383838"/>
<text transform="matrix(1,0.000873,0,1,0,-0.27435)" x="314.27" y="400.38" font-size="9.97" textLength="28.81" lengthAdjust="spacingAndGlyphs" fill="#1a1a1a">U2932</text>
<text transform="matrix(1,0.000873,0,1,0,-0.27767)" x="318.07" y="527.90" font-size="10.01" textLength="20.84" lengthAdjust="spacingAndGlyphs" fill="#1a1a1a">Days</text>
<line x1="256.60" y1="407.20" x2="256.60" y2="501.20" stroke="#262626" stroke-width="1.3" />
<line x1="253.70" y1="500.60" x2="256.60" y2="500.60" stroke="#262626" stroke-width="1.3" />
<text transform="matrix(1,0.000873,0,1,0,-0.21475)" x="246.00" y="503.06" font-size="8.30" textLength="4.61" lengthAdjust="spacingAndGlyphs" fill="#1a1a1a">0</text>
<line x1="253.70" y1="483.54" x2="256.60" y2="483.54" stroke="#262626" stroke-width="1.3" />
<text transform="matrix(1,0.000873,0,1,0,-0.21102)" x="241.72" y="486.00" font-size="8.30" textLength="8.87" lengthAdjust="spacingAndGlyphs" fill="#1a1a1a">20</text>
<line x1="253.70" y1="466.48" x2="256.60" y2="466.48" stroke="#262626" stroke-width="1.3" />
<text transform="matrix(1,0.000873,0,1,0,-0.21122)" x="241.94" y="468.94" font-size="8.30" textLength="8.64" lengthAdjust="spacingAndGlyphs" fill="#1a1a1a">40</text>
<line x1="253.70" y1="449.42" x2="256.60" y2="449.42" stroke="#262626" stroke-width="1.3" />
<text transform="matrix(1,0.000873,0,1,0,-0.21102)" x="241.71" y="451.88" font-size="8.30" textLength="8.88" lengthAdjust="spacingAndGlyphs" fill="#1a1a1a">60</text>
<line x1="253.70" y1="432.36" x2="256.60" y2="432.36" stroke="#262626" stroke-width="1.3" />
<text transform="matrix(1,0.000873,0,1,0,-0.21107)" x="241.78" y="434.82" font-size="8.30" textLength="8.81" lengthAdjust="spacingAndGlyphs" fill="#1a1a1a">80</text>
<line x1="253.70" y1="415.30" x2="256.60" y2="415.30" stroke="#262626" stroke-width="1.3" />
<text transform="matrix(1,0.000873,0,1,0,-0.20717)" x="237.31" y="417.76" font-size="8.30" textLength="13.28" lengthAdjust="spacingAndGlyphs" fill="#1a1a1a">100</text>
<line x1="256.00" y1="500.60" x2="400.50" y2="500.60" stroke="#262626" stroke-width="1.3" />
<line x1="256.60" y1="500.60" x2="256.60" y2="503.70" stroke="#262626" stroke-width="1.3" />
<text transform="matrix(1,0.000873,0,1,0,-0.22200)" x="254.30" y="514.46" font-size="8.30" textLength="4.61" lengthAdjust="spacingAndGlyphs" fill="#1a1a1a">0</text>
<line x1="291.82" y1="500.60" x2="291.82" y2="503.70" stroke="#262626" stroke-width="1.3" />
<text transform="matrix(1,0.000873,0,1,0,-0.25085)" x="287.34" y="514.46" font-size="8.30" textLength="8.87" lengthAdjust="spacingAndGlyphs" fill="#1a1a1a">20</text>
<line x1="327.04" y1="500.60" x2="327.04" y2="503.70" stroke="#262626" stroke-width="1.3" />
<text transform="matrix(1,0.000873,0,1,0,-0.28179)" x="322.78" y="514.46" font-size="8.30" textLength="8.64" lengthAdjust="spacingAndGlyphs" fill="#1a1a1a">40</text>
<line x1="362.26" y1="500.60" x2="362.26" y2="503.70" stroke="#262626" stroke-width="1.3" />
<text transform="matrix(1,0.000873,0,1,0,-0.31234)" x="357.77" y="514.46" font-size="8.30" textLength="8.88" lengthAdjust="spacingAndGlyphs" fill="#1a1a1a">60</text>
<line x1="397.48" y1="500.60" x2="397.48" y2="503.70" stroke="#262626" stroke-width="1.3" />
<text transform="matrix(1,0.000873,0,1,0,-0.34314)" x="393.06" y="514.46" font-size="8.30" textLength="8.81" lengthAdjust="spacingAndGlyphs" fill="#1a1a1a">80</text>
<g transform="matrix(1,0.000873,0,1,0,-0.20033)"><text transform="rotate(-90)" x="-488.29" y="229.48" font-size="10.57" textLength="69.82" lengthAdjust="spacingAndGlyphs" fill="#1a1a1a">Percent survival</text></g>
<polyline points="348.47,415.30 373.13,415.30" fill="none" stroke="#4f6382" stroke-width="1.5" stroke-linejoin="round" />
<polygon points="373.13,413.03 371.03,416.81 375.23,416.81" fill="#4f6382"/>
<polyline points="327.34,415.30 348.47,415.30 348.47,449.42 367.84,449.42 367.84,483.54 373.13,483.54" fill="none" stroke="#a13545" stroke-width="1.5" stroke-linejoin="round" />
<rect x="346.47" y="447.42" width="4.0" height="4.0" fill="#a13545"/>
<rect x="365.84" y="481.54" width="4.0" height="4.0" fill="#a13545"/>
<rect x="371.13" y="481.54" width="4.0" height="4.0" fill="#a13545"/>
<polyline points="256.60,415.30 327.34,415.30 327.34,432.36 336.14,432.36 336.14,449.42 348.47,449.42 348.47,500.60" fill="none" stroke="#78a85a" stroke-width="1.5" stroke-linejoin="round" />
<circle cx="327.34" cy="432.36" r="2.05" fill="#78a85a"/>
<circle cx="336.14" cy="449.42" r="2.05" fill="#78a85a"/>
<circle cx="348.47" cy="500.60" r="2.05" fill="#78a85a"/>
<line x1="397.80" y1="416.20" x2="408.30" y2="416.20" stroke="#78a85a" stroke-width="1.4" />
<circle cx="403.05" cy="416.20" r="2.0" fill="#78a85a"/>
<line x1="397.80" y1="428.90" x2="408.30" y2="428.90" stroke="#a13545" stroke-width="1.4" />
<rect x="401.15" y="427.00" width="3.8" height="3.8" fill="#a13545"/>
<line x1="397.80" y1="441.50" x2="408.30" y2="441.50" stroke="#4f6382" stroke-width="1.4" />
<polygon points="403.05,438.80 400.55,443.30 405.55,443.30" fill="#4f6382"/>
<text transform="matrix(1,0.000873,0,1,0,-0.36109)" x="413.62" y="418.71" font-size="7.30" textLength="40.52" lengthAdjust="spacingAndGlyphs" fill="#1a1a1a">Mock T cells</text>
<text transform="matrix(1,0.000873,0,1,0,-0.36130)" x="413.86" y="431.31" font-size="7.16" textLength="53.88" lengthAdjust="spacingAndGlyphs" fill="#1a1a1a">CD19CART cells</text>
<text transform="matrix(1,0.000873,0,1,0,-0.36130)" x="413.86" y="444.01" font-size="7.16" textLength="53.88" lengthAdjust="spacingAndGlyphs" fill="#1a1a1a">CD37CART cells</text>
<line x1="483.50" y1="425.40" x2="483.50" y2="443.90" stroke="#333" stroke-width="1.0" />
<line x1="492.50" y1="412.00" x2="492.50" y2="431.60" stroke="#333" stroke-width="1.0" />
<line x1="504.20" y1="411.10" x2="504.20" y2="444.30" stroke="#333" stroke-width="1.0" />
<circle cx="488.00" cy="434.60" r="1.15" fill="#383838"/>
<circle cx="497.30" cy="421.90" r="1.15" fill="#383838"/>
<circle cx="508.90" cy="425.60" r="1.15" fill="#383838"/>
<circle cx="508.90" cy="430.60" r="1.15" fill="#383838"/>
<rect x="0" y="0" width="520" height="1" fill="#4d4d4d"/>
<rect x="0" y="1" width="520" height="1" fill="#9a9a9a"/>
<rect x="0" y="0" width="1" height="538" fill="#4a4a4a"/>
<rect x="1" y="0" width="1" height="538" fill="#858585"/>
<rect x="519" y="0" width="1" height="538" fill="#000"/>
<rect x="0" y="537" width="520" height="1" fill="#000"/>
</g>
</svg>
</body></html>
